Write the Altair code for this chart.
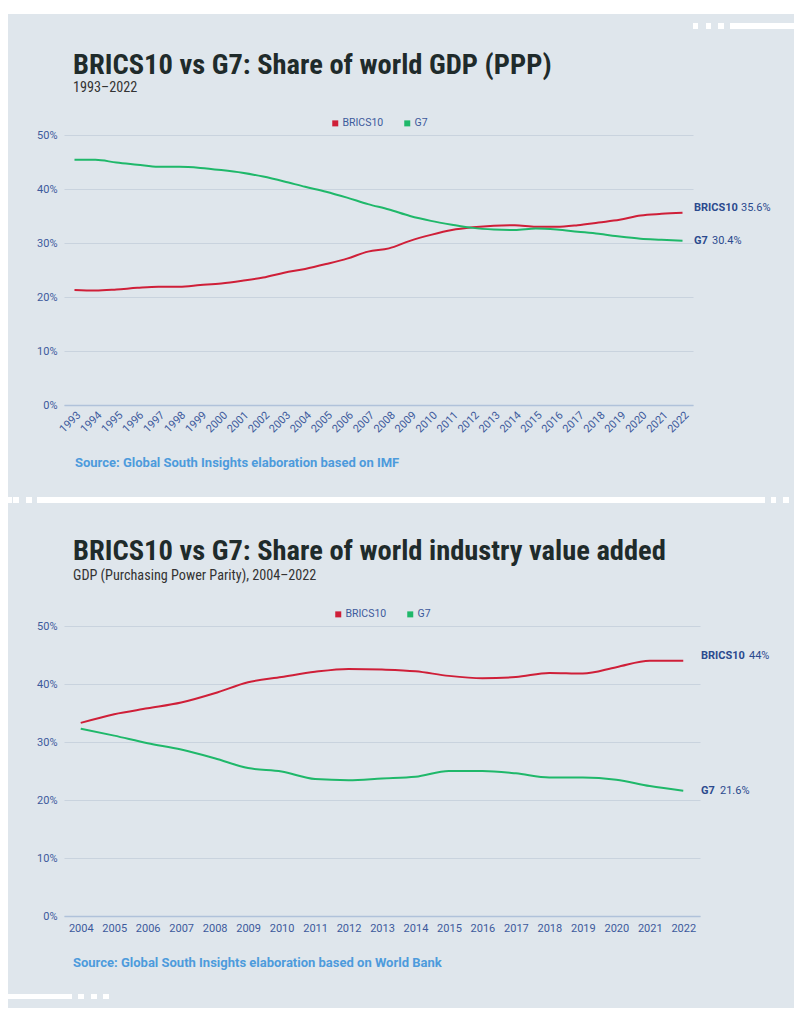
import altair as alt
import pandas as pd

# ---------------- data ----------------
series_names = ["BRICS10", "G7"]

years_gdp = list(range(1993, 2023))
brics_gdp = [21.3, 21.2, 21.4, 21.7, 21.9, 21.9, 22.2, 22.5, 23.0, 23.6, 24.5, 25.2, 26.1, 27.1, 28.4,
             29.0, 30.4, 31.5, 32.4, 32.9, 33.2, 33.3, 33.0, 33.0, 33.3, 33.8, 34.3, 35.1, 35.4, 35.6]
g7_gdp = [45.4, 45.4, 44.9, 44.5, 44.1, 44.1, 43.9, 43.5, 43.0, 42.3, 41.4, 40.4, 39.5, 38.4, 37.2,
          36.2, 35.0, 34.1, 33.4, 32.8, 32.5, 32.4, 32.7, 32.5, 32.1, 31.7, 31.2, 30.8, 30.6, 30.4]

years_ind = list(range(2004, 2023))
brics_ind = [33.3, 34.8, 35.8, 36.8, 38.4, 40.3, 41.2, 42.1, 42.6, 42.5, 42.2, 41.4, 41.0, 41.2,
             41.9, 41.8, 42.9, 44.0, 44.0]
g7_ind = [32.3, 31.1, 29.8, 28.7, 27.2, 25.5, 24.9, 23.6, 23.4, 23.7, 24.0, 25.0, 25.0, 24.6,
          23.9, 23.9, 23.5, 22.4, 21.6]

title1 = "BRICS10 vs G7: Share of world GDP (PPP)"
subtitle1 = "1993–2022"
source1 = "Source: Global South Insights elaboration based on IMF"
title2 = "BRICS10 vs G7: Share of world industry value added"
subtitle2 = "GDP (Purchasing Power Parity), 2004–2022"
source2 = "Source: Global South Insights elaboration based on World Bank"
y_ticks = [0, 10, 20, 30, 40, 50]

# ---------------- style ----------------
BG = "#dfe6ec"
RED = "#cf1f38"
GREEN = "#1fb86a"
AXIS_BLUE = "#3d5a9c"
LABEL_BLUE = "#2b4a8e"
GRID = "#c9d3de"
ZERO = "#b0c2da"
TITLE_C = "#1f2b2b"
SOURCE_C = "#4d9bdc"
COND = "Roboto Condensed, Liberation Sans Narrow, Arial Narrow, DejaVu Sans Condensed, Roboto"
FONT = "Roboto"

one = pd.DataFrame({"a": [0]})


def frame(years, brics, g7):
    rows = []
    for y, b, g in zip(years, brics, g7):
        rows.append({"year": str(y), "series": "BRICS10", "value": b})
        rows.append({"year": str(y), "series": "G7", "value": g})
    df = pd.DataFrame(rows)
    df["label"] = df["value"].map(lambda v: f"{v:g}%")
    return df


def rect(x1, x2, y1, y2, color="white"):
    return alt.Chart(one).mark_rect(color=color).encode(
        x=alt.value(x1), x2=alt.value(x2), y=alt.value(y1), y2=alt.value(y2))


def txt(text, x, y, size, color, weight="normal", font=FONT):
    return alt.Chart(one).mark_text(
        text=text, align="left", baseline="alphabetic", fontSize=size,
        fontWeight=weight, color=color, font=font).encode(x=alt.value(x), y=alt.value(y))


def panel(df, W, H, last_year, angle, title, subtitle, source, tpos, legend_pos, dx_val, extra):
    x_axis = alt.Axis(labelAngle=angle, labelColor=AXIS_BLUE, labelFontSize=11, labelFont=FONT,
                      ticks=False, domain=True, domainColor=ZERO, domainWidth=1.5,
                      labelPadding=4 if angle else 6, title=None, grid=False,
                      labelAlign="right" if angle else "center",
                      labelBaseline="top")
    y_axis = alt.Axis(values=y_ticks, labelExpr="datum.value + '%'", labelColor=AXIS_BLUE,
                      labelFontSize=11, labelFont=FONT, ticks=False, domain=False,
                      gridColor=GRID, gridWidth=1, labelPadding=7, title=None)
    base = alt.Chart(df).encode(
        x=alt.X("year:O", axis=x_axis, scale=alt.Scale(type="point", padding=0.5)),
        y=alt.Y("value:Q", axis=y_axis, scale=alt.Scale(domain=[0, 50], nice=False)),
    )
    lines = base.mark_line(strokeWidth=2, interpolate="monotone").encode(
        color=alt.Color("series:N", sort=series_names,
                        scale=alt.Scale(domain=series_names, range=[RED, GREEN]),
                        legend=alt.Legend(orient="none", legendX=legend_pos[0], legendY=legend_pos[1],
                                          direction="horizontal", title=None, symbolType="square",
                                          symbolSize=9, symbolStrokeWidth=3, labelFontSize=10.5,
                                          labelFont=FONT, labelColor=AXIS_BLUE, columnPadding=15,
                                          labelOffset=2)))
    last = base.transform_filter(f"datum.year == '{last_year}'")
    labels = []
    for name, dy in (("BRICS10", -5), ("G7", 0)):
        sub = last.transform_filter(f"datum.series == '{name}'")
        labels.append(sub.mark_text(align="left", baseline="middle", fontSize=11, fontWeight="bold",
                                    font=FONT, color=LABEL_BLUE, dy=dy).encode(
            x=alt.value(W + 1), text="series:N"))
        labels.append(sub.mark_text(align="left", baseline="middle", fontSize=11, font=FONT,
                                    color=LABEL_BLUE, dy=dy, dx=dx_val[name]).encode(
            x=alt.value(W + 1), text="label:N"))
    texts = [
        txt(title, 9, tpos[0], 28.5, TITLE_C, "bold", COND),
        txt(subtitle, 9, tpos[1], 14.2, "#333333", "normal", COND),
        txt(source, tpos[3], tpos[2], 13, SOURCE_C, "bold", FONT),
    ]
    return alt.layer(lines, *labels, *texts, *extra).properties(width=W, height=H)


# decorations, chart 1 (origin at plot top-left)
deco1 = [
    rect(-56, 730, -127, -121),             # top white band
    rect(629, 634, -112, -106), rect(642, 647, -112, -106), rect(654, 660, -112, -106),
    rect(666, 730, -112, -106),             # top-right dashes
    rect(-56, -52, 362, 368), rect(-51, -45, 362, 368), rect(-38, -32, 362, 368),
    rect(-27, 701, 362, 368),               # middle separator
    rect(707, 712, 362, 368), rect(719, 725, 362, 368),
]
# decorations, chart 2
deco2 = [
    rect(0, 10, -123, -122, BG),             # top anchor (invisible)
    rect(-56, 8, 368, 373), rect(14, 20, 368, 373), rect(27, 33, 368, 373), rect(39, 45, 368, 373),
]

c1 = panel(frame(years_gdp, brics_gdp, g7_gdp), 629, 270, "2022", -45, title1, subtitle1, source1,
           (-61, -43, 332, 11), (266, -17), {"BRICS10": 47, "G7": 18}, deco1)
c2 = panel(frame(years_ind, brics_ind, g7_ind), 636, 290, "2022", 0, title2, subtitle2, source2,
           (-66, -46, 341, 9), (269, -17), {"BRICS10": 48, "G7": 19}, deco2)

chart = alt.vconcat(c1, c2, spacing=0).resolve_scale(
    color="independent", x="independent", y="independent"
).resolve_legend(color="independent").configure(
    background=BG, padding={"left": 0, "top": 0, "right": 0, "bottom": 9}
).configure_view(stroke=None)

chart.save("out.html", embed_options={"renderer": "svg", "actions": False})
